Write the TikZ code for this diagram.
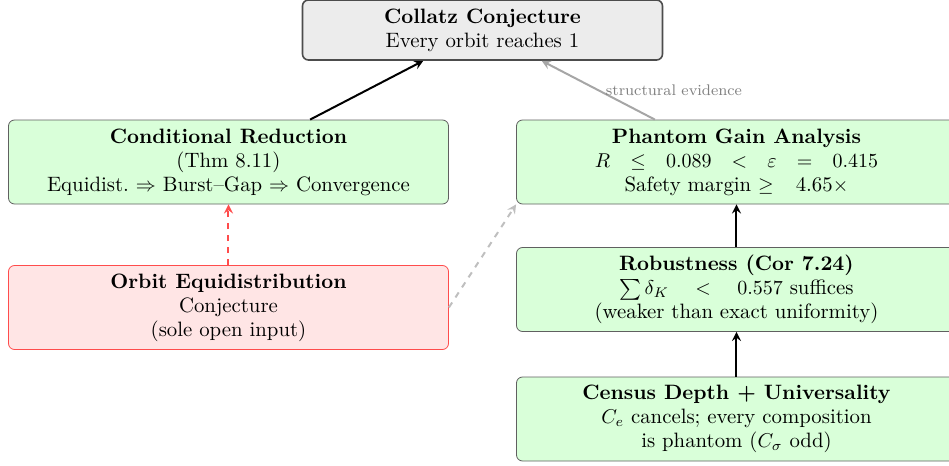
\documentclass[tikz,border=0pt]{standalone}
\usepackage{amsmath, amssymb}
\usepackage{tikz}

\begin{document}
\begin{tikzpicture}[x=1pt, y=1pt, >=stealth, font=\fontsize{10.4pt}{12pt}\selectfont,
    box/.style={rectangle, rounded corners=3pt, draw=gray!75!black, fill=green!15,
      align=center, minimum width=220pt, minimum height=42pt, inner sep=2pt},
    goal/.style={box, fill=gray!15, draw=gray!60!black, thick, minimum width=180pt, minimum height=30pt},
    open/.style={box, fill=red!10, draw=red!70},
    link/.style={->, line width=1pt}]
  \useasboundingbox (-241.25,-218) rectangle (233.25,15);
  \node[goal] (top) at (0,0) {\textbf{Collatz Conjecture}\\ Every orbit reaches 1};
  \node[box] (cond) at (-127,-66) {\textbf{Conditional Reduction}\\ (Thm 8.11)\\ Equidist.\ $\Rightarrow$ Burst--Gap $\Rightarrow$ Convergence};
  \node[open] (equi) at (-127,-138.75) {\textbf{Orbit Equidistribution}\\ Conjecture\\ (sole open input)};
  \node[box] (gain) at (127,-66) {\textbf{Phantom Gain Analysis}\\ $R\hspace{7.3pt}\leq\hspace{7.3pt}0.089\hspace{7.3pt}<\hspace{7.3pt}\varepsilon\hspace{7.3pt}=\hspace{7.3pt}0.415$\\ Safety margin $\geq$\hspace{11pt}4.65$\times$};
  \node[box] (robust) at (127,-129.75) {\textbf{Robustness (Cor 7.24)}\\ $\sum\delta_K\quad<\quad0.557$ suffices\\ (weaker than exact uniformity)};
  \node[box] (census) at (127,-194.5) {\textbf{Census Depth + Universality}\\ $C_e$ cancels; every composition\\ is phantom ($C_\sigma$ odd)};
  \draw[link] (cond) -- (top);
  \draw[link, gray!70] (gain) -- node[midway, right, font=\fontsize{7.7pt}{9pt}\selectfont, text=gray] {structural evidence} (top);
  \draw[link, dashed, red!70] (equi) -- (cond);
  \draw[link, dashed, gray!50] (equi.east) -- (gain.south west);
  \draw[link] (robust) -- (gain);
  \draw[link] (census) -- (robust);
\end{tikzpicture}
\end{document}
